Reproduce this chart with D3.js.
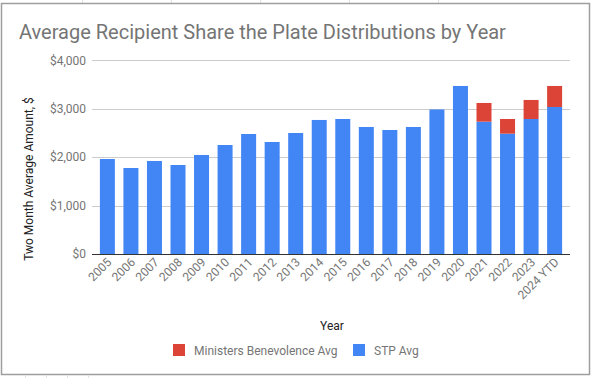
<!DOCTYPE html>
<html><head><meta charset="utf-8">
<script src="https://cdn.jsdelivr.net/npm/d3@7"></script>
<style>body{margin:0;background:#fff;}svg{display:block;font-family:Roboto,"Noto Sans",sans-serif;}</style>
</head><body>
<svg id="c" width="592" height="378"></svg>
<script>
const years = ["2005","2006","2007","2008","2009","2010","2011","2012","2013","2014","2015","2016","2017","2018","2019","2020","2021","2022","2023","2024 YTD"];
const stpAvg = [1962,1776,1921,1838,2045,2251,2478,2313,2499,2768,2788,2623,2561,2623,2985,3470,2733,2485,2788,3036];
const ministersAvg = [0,0,0,0,0,0,0,0,0,0,0,0,0,0,0,0,386,303,393,434];
const yTicks = [0,1000,2000,3000,4000];
const seriesNames = ["Ministers Benevolence Avg","STP Avg"];
const colors = {stp:"#4285F4", mb:"#DB4437"};

const svg = d3.select("#c");
// spreadsheet background grid outside chart
const g0 = svg.append("g").attr("stroke","#e2e2e2").attr("stroke-width",1);
[82,171,260,349,438].forEach(x=>g0.append("line").attr("x1",x+0.5).attr("x2",x+0.5).attr("y1",0).attr("y2",3));
[25,46,67,88].forEach(x=>g0.append("line").attr("x1",x+0.5).attr("x2",x+0.5).attr("y1",376).attr("y2",378));
// chart border
svg.append("rect").attr("x",1.5).attr("y",3.5).attr("width",588).attr("height",371)
  .attr("fill","#fff").attr("stroke","#9e9e9e").attr("stroke-width",1.5);

svg.append("text").attr("x",19).attr("y",39).attr("font-size",20).attr("fill","#757575")
  .text("Average Recipient Share the Plate Distributions by Year");

const x = d3.scaleBand().domain(years).range([92,570]).paddingInner(0.363).paddingOuter(0.335);
const y = d3.scaleLinear().domain([0,4000]).range([254,60.3]);

// gridlines
svg.append("g").selectAll("line").data(yTicks.filter(d=>d>0)).join("line")
  .attr("x1",92).attr("x2",570).attr("y1",d=>Math.round(y(d))+0.5).attr("y2",d=>Math.round(y(d))+0.5)
  .attr("stroke","#cccccc");

// y axis labels
const yAxis = d3.axisLeft(y).tickValues(yTicks).tickSize(0).tickPadding(6)
  .tickFormat(d=>"$"+d3.format(",")(d));
const ya = svg.append("g").attr("transform","translate(92,0)").call(yAxis);
ya.select(".domain").remove();
ya.selectAll("text").attr("font-size",12).attr("fill","#757575").attr("font-family","Roboto");

// bars
const bars = svg.append("g");
bars.selectAll("rect.stp").data(years).join("rect").attr("class","stp")
  .attr("x",d=>x(d)).attr("width",x.bandwidth())
  .attr("y",(d,i)=>y(stpAvg[i])).attr("height",(d,i)=>y(0)-y(stpAvg[i]))
  .attr("fill",colors.stp);
bars.selectAll("rect.mb").data(years.filter((d,i)=>ministersAvg[i]>0)).join("rect").attr("class","mb")
  .attr("x",d=>x(d)).attr("width",x.bandwidth())
  .attr("y",d=>{const i=years.indexOf(d);return y(stpAvg[i]+ministersAvg[i]);})
  .attr("height",d=>{const i=years.indexOf(d);return y(stpAvg[i])-y(stpAvg[i]+ministersAvg[i]);})
  .attr("fill",colors.mb);

// baseline
svg.append("line").attr("x1",92).attr("x2",570).attr("y1",254.5).attr("y2",254.5).attr("stroke","#333").attr("stroke-width",1);

// x axis labels
const xa = svg.append("g");
xa.selectAll("text").data(years).join("text")
  .attr("transform",d=>`translate(${x(d)+x.bandwidth()/2+5},${263}) rotate(-45)`)
  .attr("text-anchor","end").attr("font-size",12).attr("fill","#757575")
  .text(d=>d);

// axis titles
svg.append("text").attr("x",332).attr("y",330).attr("text-anchor","middle").attr("font-size",12).attr("fill","#222").text("Year");
svg.append("text").attr("transform","translate(33,179) rotate(-90)").attr("text-anchor","middle")
  .attr("font-size",12).attr("fill","#222").text("Two Month Average Amount, $");

// legend
const leg = svg.append("g");
const legItems = [{n:seriesNames[0],c:colors.mb,x:173},{n:seriesNames[1],c:colors.stp,x:353}];
legItems.forEach(it=>{
  leg.append("rect").attr("x",it.x).attr("y",344).attr("width",12).attr("height",12).attr("fill",it.c);
  leg.append("text").attr("x",it.x+21).attr("y",354.5).attr("font-size",12).attr("fill","#757575").text(it.n);
});
</script>
</body></html>
